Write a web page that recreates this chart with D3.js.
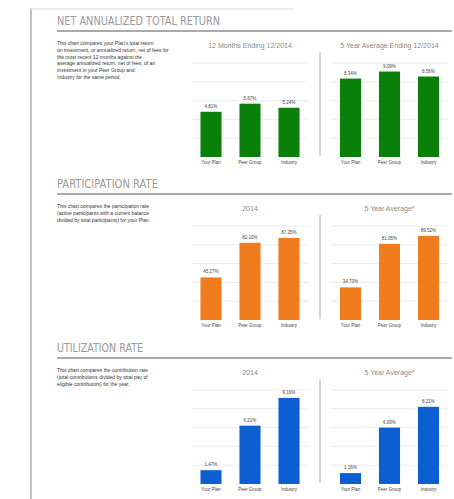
<!DOCTYPE html>
<html>
<head>
<meta charset="utf-8">
<script src="https://cdn.jsdelivr.net/npm/d3@7"></script>
<style>
  body { margin: 0; background: #fff; }
  svg { display: block; font-family: "Liberation Sans", Arial, sans-serif; }
</style>
</head>
<body>
<div id="page"></div>
<script>
// data
var categories = ["Your Plan", "Peer Group", "Industry"];

var sectionTitles = ["NET ANNUALIZED TOTAL RETURN", "PARTICIPATION RATE", "UTILIZATION RATE"];
var chartTitles = [
    ["12 Months Ending 12/2014", "5 Year Average Ending 12/2014"],
    ["2014", "5 Year Average*"],
    ["2014", "5 Year Average*"]
];
var descriptions = [
    ["This chart compares your Plan's total return",
     "on investment, or annualized return, net of fees for",
     "the most recent 12 months against the",
     "average annualized return, net of fees, of an",
     "investment in your Peer Group and",
     "Industry for the same period."],
    ["This chart compares the participation rate",
     "(active participants with a current balance",
     "divided by total participants) for your Plan."],
    ["This chart compares the contribution rate",
     "(total contributions divided by total pay of",
     "eligible contributors) for the year."]
];

var returnYear = [4.81, 5.67, 5.24];
var return5yr = [8.34, 9.09, 8.56];
var partYear = [45.27, 82.10, 87.35];
var part5yr = [34.70, 81.05, 89.52];
var utilYear = [1.47, 6.21, 9.16];
var util5yr = [1.16, 6.00, 8.21];

var yMax = [10, 100, 10];
var gridTicks = [[2, 4, 6, 8, 10], [20, 40, 60, 80, 100], [2, 4, 6, 8, 10]];
var colors = ["#0a7f0a", "#f07c1e", "#0c5fd0"];

var seriesBySection = [[returnYear, return5yr], [partYear, part5yr], [utilYear, util5yr]];

var width = 454, height = 499;

var svg = d3.select("#page")
    .append("svg")
    .attr("width", width)
    .attr("height", height);

// page frame
svg.append("line")
    .attr("x1", 31).attr("x2", 31).attr("y1", 8).attr("y2", height)
    .attr("stroke", "#c4c4c4").attr("stroke-width", 2);
svg.append("line")
    .attr("x1", 31).attr("x2", 293).attr("y1", 9).attr("y2", 9)
    .attr("stroke", "#e6e6e6").attr("stroke-width", 1.5);

// layout of each section
var sectionTop = [0, 163, 327];
var titleWidth = [163, 101, 86];

var x1 = d3.scaleBand().domain(categories).range([191.5, 308.5]).paddingInner(0.46).paddingOuter(0.23);
var x2 = d3.scaleBand().domain(categories).range([331, 448]).paddingInner(0.46).paddingOuter(0.23);

sectionTitles.forEach(function (title, s) {
    var top = sectionTop[s];
    var g = svg.append("g").attr("transform", "translate(0," + top + ")");

    // section heading
    g.append("text")
        .attr("x", 57)
        .attr("y", 25)
        .attr("textLength", titleWidth[s])
        .attr("lengthAdjust", "spacingAndGlyphs")
        .style("font-family", "'Liberation Sans Narrow', 'DejaVu Sans Condensed', sans-serif")
        .style("font-size", "11.5px")
        .attr("fill", "#9a9a9a")
        .text(title);

    g.append("line")
        .attr("x1", 57).attr("x2", 452).attr("y1", 31).attr("y2", 31)
        .attr("stroke", "#8e8e8e").attr("stroke-width", 1.5);

    // description
    g.append("g").selectAll("text")
        .data(descriptions[s])
        .enter()
        .append("text")
        .attr("x", 57)
        .attr("y", function (d, i) { return 45 + i * 6.8; })
        .style("font-size", "5px")
        .attr("fill", "#333")
        .text(function (d) { return d; });

    var baseline = 157;
    var y = d3.scaleLinear().domain([0, yMax[s]]).range([baseline, 63]);

    // separator
    g.append("line")
        .attr("x1", 320).attr("x2", 320).attr("y1", 52).attr("y2", 156)
        .attr("stroke", "#a8a8a8").attr("stroke-width", 1);

    [x1, x2].forEach(function (x, c) {
        var values = seriesBySection[s][c];
        var r = x.range();
        var cg = g.append("g");

        // gridlines
        cg.selectAll(".grid")
            .data(gridTicks[s])
            .enter()
            .append("line")
            .attr("x1", r[0]).attr("x2", r[1])
            .attr("y1", function (d) { return y(d); })
            .attr("y2", function (d) { return y(d); })
            .attr("stroke", "#ececec").attr("stroke-width", 1);

        // chart title
        cg.append("text")
            .attr("x", (r[0] + r[1]) / 2)
            .attr("y", 48)
            .attr("text-anchor", "middle")
            .style("font-size", "7px")
            .attr("fill", "#8a8a8a")
            .text(chartTitles[s][c]);

        // bars
        cg.selectAll(".bar")
            .data(values)
            .enter()
            .append("rect")
            .attr("x", function (d, i) { return x(categories[i]); })
            .attr("y", function (d) { return y(d); })
            .attr("width", x.bandwidth())
            .attr("height", function (d) { return baseline - y(d); })
            .style("fill", colors[s]);

        // value labels
        cg.selectAll(".val")
            .data(values)
            .enter()
            .append("text")
            .attr("x", function (d, i) { return x(categories[i]) + x.bandwidth() / 2; })
            .attr("y", function (d) { return y(d) - 4; })
            .attr("text-anchor", "middle")
            .style("font-size", "4.5px")
            .attr("fill", "#444")
            .text(function (d) { return d.toFixed(2) + "%"; });

        // category labels
        cg.selectAll(".cat")
            .data(categories)
            .enter()
            .append("text")
            .attr("x", function (d) { return x(d) + x.bandwidth() / 2; })
            .attr("y", baseline + 7)
            .attr("text-anchor", "middle")
            .style("font-size", "4.5px")
            .attr("fill", "#444")
            .text(function (d) { return d; });
    });
});
</script>
</body>
</html>
